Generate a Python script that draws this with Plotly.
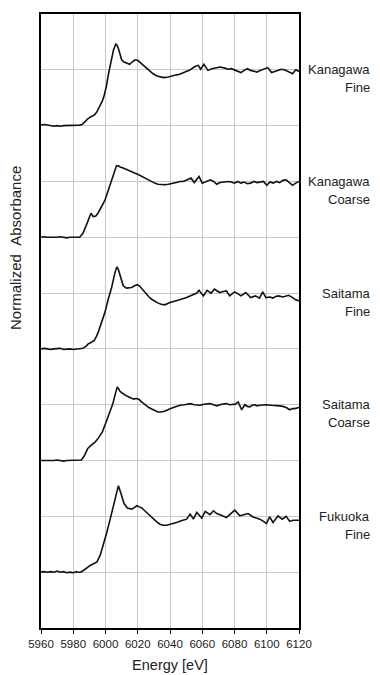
import plotly.graph_objects as go

# Fe K-edge XANES spectra, normalized and stacked with a vertical offset of 2
kf_e = [5960, 5962, 5964, 5966, 5968, 5970, 5972, 5974, 5976, 5978, 5980, 5982, 5984, 5985.5,
        5987, 5989, 5991, 5993, 5994.5, 5996, 5998, 5999, 6000.5, 6002, 6003, 6004, 6005, 6006.4,
        6007.2, 6008, 6009, 6010, 6011.5, 6013, 6015, 6016.5, 6018.3, 6020, 6021.5, 6023, 6024.5,
        6026.4, 6028, 6029.5, 6032, 6034.5, 6036, 6039, 6041, 6044, 6046, 6048, 6050, 6052, 6054,
        6055.5, 6057.5, 6059, 6061, 6063.5, 6066, 6068, 6071, 6074, 6076, 6078, 6080, 6082, 6084,
        6086, 6088, 6090, 6092, 6094, 6096, 6098, 6100.6, 6103, 6105, 6107, 6109, 6111, 6113, 6116,
        6118, 6120]
kf_mu = [9.01, 9.02, 9.01, 9.00, 8.99, 9.00, 8.99, 9.00, 9.00, 9.00, 9.00, 9.00, 9.01, 9.02,
         9.07, 9.12, 9.16, 9.19, 9.24, 9.32, 9.44, 9.52, 9.70, 9.95, 10.08, 10.23, 10.36, 10.46,
         10.44, 10.38, 10.28, 10.18, 10.14, 10.12, 10.10, 10.14, 10.18, 10.17, 10.13, 10.09, 10.05,
         10.00, 9.96, 9.93, 9.89, 9.87, 9.86, 9.87, 9.89, 9.91, 9.92, 9.95, 9.97, 9.99, 10.03,
         10.06, 10.08, 10.01, 10.10, 9.99, 10.02, 10.03, 10.05, 10.03, 10.01, 10.02, 10.00, 9.98, 9.95,
         9.99, 10.02, 9.99, 9.97, 9.96, 9.99, 10.01, 10.04, 9.95, 9.97, 9.99, 10.01, 10.00, 9.97, 9.93,
         10.00, 9.97]

kc_e = [5960, 5962, 5964, 5966, 5968, 5970, 5972, 5974, 5976, 5978, 5980, 5982, 5984,
        5986, 5987, 5989, 5990, 5991, 5992.4, 5994, 5995.5, 5997, 5998.5, 5999.6, 6001, 6002.7,
        6004, 6005, 6006, 6006.8, 6008, 6009, 6011, 6013, 6015, 6018, 6020, 6022, 6024, 6026.4,
        6028.5, 6030.5, 6032.5, 6034.5, 6037, 6039, 6042, 6044, 6046, 6048, 6050, 6053, 6055, 6058,
        6060, 6062, 6065, 6067, 6069, 6071, 6073, 6076, 6078, 6080, 6082, 6084, 6086, 6088, 6090,
        6092, 6094, 6096, 6098, 6100, 6102, 6104, 6106, 6108, 6110, 6112, 6114, 6116, 6118, 6120]
kc_mu = [7.00, 7.01, 7.00, 7.00, 6.99, 7.00, 7.01, 7.00, 6.99, 7.00, 7.00, 7.00, 7.00,
         7.07, 7.13, 7.28, 7.36, 7.43, 7.37, 7.38, 7.44, 7.53, 7.60, 7.66, 7.78, 7.92,
         8.03, 8.12, 8.22, 8.28, 8.28, 8.26, 8.24, 8.21, 8.19, 8.15, 8.13, 8.10, 8.06, 8.02,
         7.99, 7.97, 7.95, 7.94, 7.94, 7.95, 7.96, 7.98, 8.00, 8.00, 8.02, 8.06, 7.98, 8.09,
         7.97, 8.00, 8.03, 8.00, 7.95, 7.98, 7.99, 8.00, 7.99, 7.97, 8.00, 7.97, 7.99, 7.96, 7.97,
         8.00, 7.98, 7.99, 8.00, 7.93, 7.99, 7.97, 8.00, 7.98, 8.02, 8.03, 7.98, 7.93, 7.97, 8.00]

sf_e = [5960, 5962, 5964, 5966, 5968, 5970, 5972, 5974, 5976, 5978, 5980, 5982, 5984, 5986,
        5988, 5989.3, 5991.3, 5993, 5994.3, 5995.5, 5997.6, 5999.7, 6001.7, 6003.8, 6005.9, 6007.1,
        6008, 6009, 6011, 6013, 6014.5, 6016.2, 6018, 6019.7, 6021, 6022.4, 6024, 6025.5, 6027,
        6028.6, 6030.5, 6032.7, 6034.5, 6036.8, 6040, 6043, 6046, 6050.3, 6053, 6056.6, 6058,
        6060.7, 6063, 6065.5, 6067.6, 6070.7, 6073, 6075, 6077, 6080, 6082, 6084, 6087, 6090, 6093,
        6095.5, 6097.5, 6099.5, 6102, 6103.7, 6105.5, 6107.4, 6110, 6112, 6113.6, 6116, 6118, 6120]
sf_mu = [5.00, 5.01, 5.00, 4.99, 5.00, 5.00, 5.01, 4.99, 5.00, 5.00, 4.99, 5.00, 5.00, 5.01,
         5.05, 5.09, 5.12, 5.15, 5.22, 5.30, 5.48, 5.66, 5.89, 6.10, 6.37, 6.47,
         6.42, 6.31, 6.13, 6.09, 6.09, 6.10, 6.13, 6.15, 6.13, 6.08, 6.03, 5.98, 5.93,
         5.89, 5.85, 5.82, 5.80, 5.79, 5.83, 5.85, 5.88, 5.92, 5.95, 6.00, 6.05,
         5.95, 6.05, 6.00, 6.07, 6.01, 6.03, 6.04, 5.95, 6.02, 5.99, 5.95, 6.01, 5.92, 5.95,
         5.91, 6.02, 5.92, 5.93, 5.91, 5.94, 5.95, 5.93, 5.95, 5.96, 5.92, 5.88, 5.86]

sc_e = [5960, 5962, 5964, 5966, 5968, 5970, 5972, 5974, 5976, 5978, 5980, 5982, 5984, 5985,
        5986.8, 5988.9, 5990.5, 5992, 5993.5, 5995, 5996.5, 5998, 6000, 6001.3, 6002.6, 6004.6,
        6005.5, 6006.3, 6007.3, 6008, 6009, 6010.3, 6011.5, 6013, 6014.5, 6016, 6017.6, 6019,
        6020.7, 6022, 6023.8, 6025.5, 6026.9, 6029, 6031, 6032.5, 6034, 6036, 6038.8, 6040, 6043,
        6046.3, 6049, 6052.5, 6055, 6058.6, 6061, 6064.8, 6067, 6069, 6072, 6075, 6077, 6079,
        6080.5, 6082.3, 6084.4, 6086.4, 6088, 6089.5, 6091, 6092.6, 6094, 6095.7, 6098, 6099.8,
        6103, 6106, 6108, 6110, 6112, 6114.3, 6116, 6117.4, 6120]
sc_mu = [3.00, 3.00, 2.99, 3.00, 3.00, 3.01, 3.00, 2.99, 3.00, 3.00, 3.00, 3.00, 3.00, 3.01,
         3.08, 3.21, 3.26, 3.29, 3.33, 3.38, 3.44, 3.51, 3.66, 3.76, 3.87, 4.02,
         4.13, 4.23, 4.32, 4.29, 4.24, 4.21, 4.18, 4.16, 4.14, 4.12, 4.10, 4.11,
         4.10, 4.06, 4.02, 3.98, 3.95, 3.92, 3.89, 3.87, 3.87, 3.88, 3.91, 3.93, 3.96,
         3.99, 4.00, 4.02, 4.00, 3.99, 4.01, 4.02, 4.00, 3.98, 4.01, 4.02, 4.00, 4.00,
         4.01, 4.05, 3.91, 4.00, 3.97, 3.96, 3.99, 4.00, 3.98, 3.99, 4.00, 4.00,
         3.99, 3.99, 3.98, 3.97, 3.95, 3.91, 3.93, 3.93, 3.95]

ff_e = [5960, 5962, 5964, 5966, 5968, 5970, 5972, 5974, 5976, 5978, 5980, 5982, 5983, 5984.5,
        5986.3, 5988, 5990.5, 5992.5, 5994.6, 5996.7, 5998.7, 6000.8, 6002.9, 6004.9, 6006.6, 6008,
        6009.7, 6011.5, 6013.6, 6016.3, 6018, 6019.4, 6021, 6022.5, 6024, 6025.5, 6027.5, 6029.7,
        6031.8, 6033.8, 6035.5, 6038, 6041, 6044, 6047, 6050.3, 6052.5, 6054.5, 6056.6, 6059.7,
        6061.8, 6064.8, 6066.9, 6069, 6071, 6073, 6075, 6077, 6080.2, 6083.3, 6086, 6088.4, 6091.5,
        6093.5, 6095.7, 6098, 6099.8, 6101.8, 6103.9, 6107, 6109.6, 6112, 6114.3, 6116.3, 6118, 6120]
ff_mu = [1.00, 1.01, 1.00, 1.01, 1.00, 1.02, 1.00, 1.01, 0.99, 1.00, 0.99, 1.01, 1.00, 1.00,
         1.03, 1.07, 1.12, 1.15, 1.18, 1.30, 1.48, 1.71, 1.95, 2.19, 2.43, 2.55,
         2.40, 2.23, 2.15, 2.13, 2.16, 2.19, 2.17, 2.15, 2.11, 2.07, 2.00, 1.94,
         1.90, 1.86, 1.84, 1.84, 1.86, 1.89, 1.92, 1.95, 2.04, 1.95, 2.07, 1.97,
         2.09, 2.03, 2.10, 2.05, 2.03, 2.00, 1.98, 2.03, 2.11, 2.01, 2.03, 2.05, 1.99,
         1.97, 1.95, 1.91, 1.87, 1.99, 1.89, 2.01, 1.95, 2.00, 1.91, 1.93, 1.93, 1.93]

# sample labels: (first line, second line, edge-step level used for placement)
sample_names = ["Kanagawa", "Kanagawa", "Saitama", "Saitama", "Fukuoka"]
sample_sizes = ["Fine", "Coarse", "Fine", "Coarse", "Fine"]
label_levels = [10, 8, 6, 4, 2]

x_ticks = [5960, 5980, 6000, 6020, 6040, 6060, 6080, 6100, 6120]

FONT = "Arial, Liberation Sans, sans-serif"
TXT = "#222222"

fig = go.Figure()
for e, mu in [(kf_e, kf_mu), (kc_e, kc_mu), (sf_e, sf_mu), (sc_e, sc_mu), (ff_e, ff_mu)]:
    fig.add_trace(go.Scatter(x=e, y=mu, mode="lines",
                             line=dict(color="#111111", width=1.6),
                             showlegend=False, hoverinfo="skip"))

for name, size, lvl in zip(sample_names, sample_sizes, label_levels):
    fig.add_annotation(x=372, xref="x domain", y=lvl, yref="y", text=name,
                       showarrow=False, xanchor="right", yanchor="middle",
                       font=dict(family=FONT, size=13, color=TXT))
    fig.add_annotation(x=372, xref="x domain", y=lvl, yref="y", yshift=-18, text=size,
                       showarrow=False, xanchor="right", yanchor="middle",
                       font=dict(family=FONT, size=13, color=TXT))

fig.add_annotation(x=16, xref="paper", y=248, yref="paper",
                   text="Normalized\u00a0\u00a0Absorbance", textangle=-90,
                   showarrow=False, xanchor="center", yanchor="middle",
                   font=dict(family=FONT, size=15, color=TXT))

# annotation positions above are given in pixels; convert them to the paper/domain fractions
W, H = 380, 675
ML, MR, MT, MB = 41, 81, 14, 47
pw, ph = W - ML - MR, H - MT - MB
for a in fig.layout.annotations:
    if a.xref in ("x domain", "paper"):
        a.x = (a.x - ML) / pw
    if a.yref == "paper":
        a.y = 1 - (a.y - MT) / ph

fig.update_layout(
    width=W, height=H,
    margin=dict(l=ML, r=MR, t=MT, b=MB, pad=0, autoexpand=False),
    paper_bgcolor="white", plot_bgcolor="white",
    font=dict(family=FONT, color=TXT),
    xaxis=dict(range=[5960, 6120], tickvals=x_ticks, ticktext=[str(v) for v in x_ticks],
               showgrid=True, gridcolor="#c8c8c8", gridwidth=1.3,
               showline=True, linecolor="black", linewidth=1.5, mirror=True,
               ticks="outside", ticklen=4, tickcolor="black", tickwidth=1.2,
               tickfont=dict(size=11.5, color=TXT, family=FONT),
               automargin=False,
               title=dict(text="Energy [eV]", font=dict(size=14.5, color=TXT, family=FONT),
                          standoff=11),
               zeroline=False),
    yaxis=dict(range=[0, 11], dtick=1, tick0=0, showticklabels=False,
               showgrid=True, gridcolor="#c8c8c8", gridwidth=1.3,
               showline=True, linecolor="black", linewidth=1.5, mirror=True,
               ticks="", zeroline=False, automargin=False),
)

fig.write_html("out.html")
